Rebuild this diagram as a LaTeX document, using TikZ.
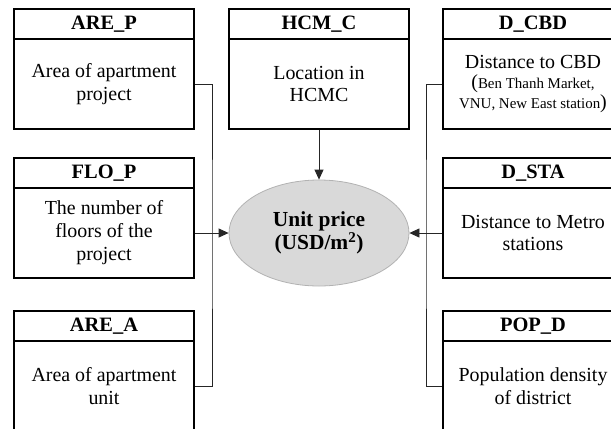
\documentclass[tikz,border=0pt]{standalone}
\usepackage{fontspec}
\setmainfont{Liberation Serif}
\usetikzlibrary{shapes.geometric,arrows.meta}
\begin{document}
\begin{tikzpicture}[x=1bp,y=-1bp,
  hdr/.style={draw, line width=1.3bp, minimum width=180bp, minimum height=30bp, inner sep=0pt,
    font=\fontsize{20.5}{22}\selectfont\bfseries},
  bdy/.style={draw, line width=1.3bp, minimum width=180bp, minimum height=90bp, inner sep=0pt,
    align=center, font=\fontsize{20}{23}\selectfont},
  conn/.style={line width=0.8bp, draw=black!85},
  arr/.style={conn, -{Triangle[length=10bp,width=9bp]}},
  target/.style={ellipse, draw=black!30, line width=0.8bp, fill=black!15, minimum width=180bp,
    minimum height=106bp, inner sep=0pt, align=center, font=\fontsize{21.5}{23.5}\selectfont\bfseries},
  ]
\useasboundingbox (0,0) rectangle (611,428);
\clip (0,0) rectangle (611,428);
% left column
\node[hdr] (areph) at (104,24) {ARE\_P};
\node[bdy] (arepb) at (104,84) {Area of apartment\\project};
\node[hdr] (flaph) at (104,173) {FLO\_P};
\node[bdy] (flopb) at (104,233) {The number of\\floors of the\\project};
\node[hdr] (areah) at (104,326) {ARE\_A};
\node[bdy] (areab) at (104,386) {Area of apartment\\unit};
% centre column
\node[hdr] (hcmh) at (319,24) {HCM\_C};
\node[bdy] (hcmb) at (319,84) {Location in\\HCMC};
% right column
\node[hdr] (cbdh) at (533,24) {D\_CBD};
\node[bdy] (cbdb) at (533,84) {Distance to CBD\\[-2pt]
  ({\fontsize{15}{17}\selectfont Ben Thanh Market,}\\[-3pt]
  {\fontsize{15}{17}\selectfont VNU, New East station})};
\node[hdr] (stah) at (533,173) {D\_STA};
\node[bdy] (stab) at (533,233) {Distance to Metro\\stations};
\node[hdr] (poph) at (533,326) {POP\_D};
\node[bdy] (popb) at (533,386) {Population density\\of district};
% target
\node[target] (price) at (319,233) {Unit price\\(USD/m\textsuperscript{2})};
% connectors
\coordinate (lbus) at (212,233);
\coordinate (rbus) at (426,233);
\draw[conn] (arepb.east) -| (lbus) |- (areab.east);
\draw[conn] (cbdb.west) -| (rbus) |- (popb.west);
\draw[arr] (flopb.east) -- (price.west);
\draw[arr] (stab.west) -- (price.east);
\draw[arr] (hcmb.south) -- (price.north);
\end{tikzpicture}
\end{document}
